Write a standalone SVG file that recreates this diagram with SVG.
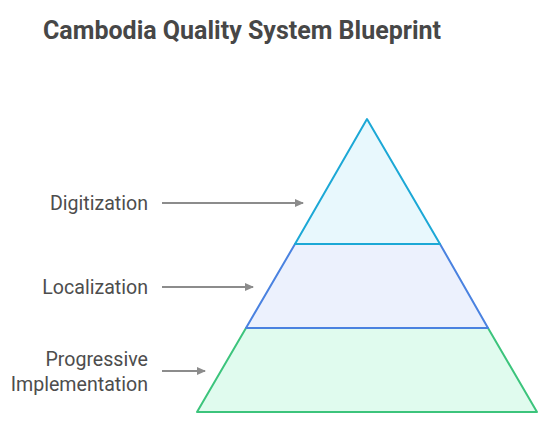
<svg xmlns="http://www.w3.org/2000/svg" width="551" height="429" viewBox="0 0 551 429">
<defs>
<marker id="ah" markerWidth="10" markerHeight="10" refX="9" refY="5" orient="auto" markerUnits="userSpaceOnUse">
<path d="M1,1 L10,5 L1,9 Z" fill="#8c8c8c"/>
</marker>
<style>
.lbl{font-family:Roboto,"Liberation Sans",sans-serif;font-size:19.6px;fill:#4d4d4d;text-anchor:end}
.title{font-family:Roboto,"Liberation Sans",sans-serif;font-size:25px;font-weight:bold;fill:#474747}
.conn{stroke:#8c8c8c;stroke-width:2;fill:none}
.lay{stroke-width:2;stroke-linejoin:round}
</style>
</defs>
<rect width="551" height="429" fill="#ffffff"/>
<text class="title" x="43" y="39">Cambodia Quality System Blueprint</text>
<g id="progressive-implementation">
<polygon class="lay" points="246,328 488,328 537,412 197,412" fill="#e0fbee" stroke="#3cc47c"/>
<text class="lbl" x="148" y="366">Progressive</text>
<text class="lbl" x="148" y="391">Implementation</text>
</g>
<g id="localization">
<polygon class="lay" points="295,244 440,244 488,328 246,328" fill="#ecf1fd" stroke="#4a82e0"/>
<text class="lbl" x="148" y="294">Localization</text>
</g>
<g id="digitization">
<polygon class="lay" points="367,119 440,244 295,244" fill="#e8f8fd" stroke="#1ca8d6"/>
<text class="lbl" x="148" y="210">Digitization</text>
</g>
<g id="connectors">
<line class="conn" x1="162" y1="203" x2="303" y2="203" marker-end="url(#ah)"/>
<line class="conn" x1="162" y1="287" x2="253" y2="287" marker-end="url(#ah)"/>
<line class="conn" x1="162" y1="371" x2="205" y2="371" marker-end="url(#ah)"/>
</g>
</svg>
